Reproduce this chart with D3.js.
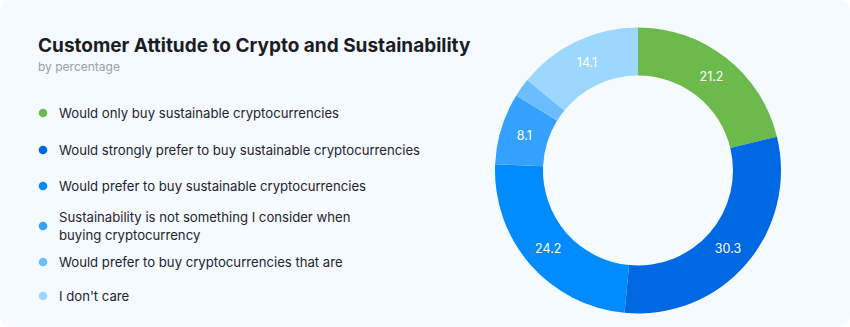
<!DOCTYPE html>
<html>
<head>
<meta charset="utf-8">
<script src="https://cdn.jsdelivr.net/npm/d3@7"></script>
<style>
  html, body { margin: 0; padding: 0; background: #ffffff; }
  svg { display: block; font-family: Inter, "Noto Sans", sans-serif; }
</style>
</head>
<body>
<svg id="chart" width="850" height="327"></svg>
<script>
// Survey answers, in the order they run clockwise from 12 o'clock
const categories = [
  "Would only buy sustainable cryptocurrencies",
  "Would strongly prefer to buy sustainable cryptocurrencies",
  "Would prefer to buy sustainable cryptocurrencies",
  "Sustainability is not something I consider when buying cryptocurrency",
  "Would prefer to buy cryptocurrencies that are",
  "I don't care"
];
const values = [21.2, 30.3, 24.2, 8.1, 2.1, 14.1];
const colors = ["#6cba4b", "#0068e3", "#008cff", "#35a1ff", "#6bbdff", "#9bd7ff"];
// Legend text split onto lines
const legendLines = [
  ["Would only buy sustainable cryptocurrencies"],
  ["Would strongly prefer to buy sustainable cryptocurrencies"],
  ["Would prefer to buy sustainable cryptocurrencies"],
  ["Sustainability is not something I consider when", "buying cryptocurrency"],
  ["Would prefer to buy cryptocurrencies that are"],
  ["I don't care"]
];

const svg = d3.select("#chart");
const W = 850, H = 327;

// card background
svg.append("rect")
  .attr("x", 0).attr("y", 0).attr("width", W).attr("height", H)
  .attr("rx", 10).attr("fill", "#f5faff");

// title block
svg.append("text")
  .attr("x", 38).attr("y", 52)
  .attr("font-size", 19).attr("font-weight", 700)
  .attr("fill", "#1c1c24")
  .text("Customer Attitude to Crypto and Sustainability");
svg.append("text")
  .attr("x", 38).attr("y", 71)
  .attr("font-size", 12).attr("fill", "#9aa0a8")
  .text("by percentage");

// legend
const rowY = [113, 150, 186, 226, 262, 296];
const legend = svg.append("g");
categories.forEach((c, i) => {
  const g = legend.append("g").attr("transform", `translate(0,${rowY[i]})`);
  g.append("circle").attr("cx", 43).attr("cy", 0).attr("r", 4.3).attr("fill", colors[i]);
  const lines = legendLines[i];
  const lh = 18;
  const t = g.append("text")
    .attr("x", 59)
    .attr("font-size", 13.15).attr("fill", "#24242c");
  lines.forEach((ln, j) => {
    t.append("tspan")
      .attr("x", 59)
      .attr("y", (j - (lines.length - 1) / 2) * lh + 4.5)
      .text(ln);
  });
});

// donut
const cx = 638, cy = 170.5, rOuter = 143, rInner = 95;
const pie = d3.pie().sort(null).value(d => d)(values);
const arc = d3.arc().innerRadius(rInner).outerRadius(rOuter);
const labelArc = d3.arc().innerRadius((rInner + rOuter) / 2).outerRadius((rInner + rOuter) / 2);

const donut = svg.append("g").attr("transform", `translate(${cx},${cy})`);
donut.selectAll("path")
  .data(pie)
  .join("path")
  .attr("d", arc)
  .attr("fill", (d, i) => colors[i]);

donut.selectAll("text")
  .data(pie.filter(d => d.data >= 5))
  .join("text")
  .attr("transform", d => `translate(${labelArc.centroid(d)})`)
  .attr("text-anchor", "middle")
  .attr("dy", "0.35em")
  .attr("font-size", 12.5)
  .attr("fill", "#ffffff")
  .text(d => d3.format(".1f")(d.data));
</script>
</body>
</html>
